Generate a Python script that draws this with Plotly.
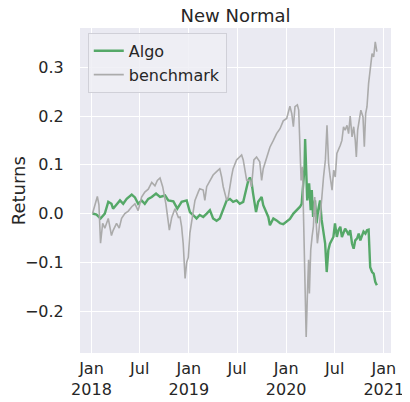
import plotly.graph_objects as go

# Algo cumulative returns
algo_dates = [
    "2018-01-05", "2018-01-20", "2018-02-04", "2018-02-20", "2018-03-05", "2018-03-17",
    "2018-03-23", "2018-04-05", "2018-04-18", "2018-04-30", "2018-05-13", "2018-06-01",
    "2018-06-13", "2018-06-25", "2018-07-08", "2018-07-20", "2018-08-02", "2018-08-15",
    "2018-08-31", "2018-09-15", "2018-10-04", "2018-10-16", "2018-11-04", "2018-11-19",
    "2018-12-05", "2018-12-24", "2019-01-05", "2019-01-17", "2019-01-30", "2019-02-11",
    "2019-02-24", "2019-03-09", "2019-03-21", "2019-04-02", "2019-04-15", "2019-04-27",
    "2019-05-10", "2019-05-23", "2019-06-04", "2019-06-16", "2019-06-29", "2019-07-11",
    "2019-07-24", "2019-07-30", "2019-08-06", "2019-08-12", "2019-08-18", "2019-08-24",
    "2019-08-30", "2019-09-10", "2019-09-18", "2019-10-01", "2019-10-07", "2019-10-17",
    "2019-10-26", "2019-11-01", "2019-11-14", "2019-11-26", "2019-12-09", "2019-12-21",
    "2020-01-03", "2020-01-15", "2020-01-28", "2020-02-09", "2020-02-22", "2020-02-28",
    "2020-03-05", "2020-03-10", "2020-03-12", "2020-03-15", "2020-03-20", "2020-03-27",
    "2020-04-02", "2020-04-06", "2020-04-11", "2020-04-18", "2020-04-24", "2020-04-30",
    "2020-05-07", "2020-05-13", "2020-05-19", "2020-05-26", "2020-06-01", "2020-06-07",
    "2020-06-13", "2020-06-20", "2020-06-26", "2020-07-02", "2020-07-09", "2020-07-15",
    "2020-07-22", "2020-07-28", "2020-08-03", "2020-08-09", "2020-08-16", "2020-08-22",
    "2020-08-28", "2020-09-04", "2020-09-10", "2020-09-16", "2020-09-23", "2020-09-29",
    "2020-10-05", "2020-10-11", "2020-10-17", "2020-10-24", "2020-10-30", "2020-11-05",
    "2020-11-08", "2020-11-11", "2020-11-18", "2020-11-24", "2020-11-30", "2020-12-06",
]
algo_returns = [
    0.000, -0.002, -0.010, 0.000, 0.024, 0.020,
    0.010, 0.018, 0.027, 0.020, 0.030, 0.039,
    0.033, 0.020, 0.027, 0.020, 0.030, 0.034,
    0.041, 0.034, 0.037, 0.027, 0.025, 0.010,
    0.024, 0.027, 0.003, -0.003, -0.010, -0.003,
    -0.007, 0.000, 0.007, -0.010, -0.015, -0.010,
    0.007, 0.027, 0.030, 0.024, 0.027, 0.020,
    0.024, 0.038, 0.058, 0.068, 0.074, 0.065,
    0.041, 0.003, 0.024, 0.034, 0.017, 0.003,
    -0.007, -0.024, -0.010, -0.014, -0.020, -0.022,
    -0.017, -0.011, 0.000, 0.007, 0.014, 0.020,
    0.062, 0.096, 0.153, 0.096, 0.027, 0.062,
    0.007, 0.048, -0.007, 0.027, -0.020, 0.007,
    0.027, -0.013, -0.034, -0.061, -0.120, -0.075,
    -0.062, -0.055, -0.048, -0.020, -0.048, -0.034,
    -0.027, -0.048, -0.041, -0.031, -0.037, -0.044,
    -0.034, -0.062, -0.072, -0.055, -0.051, -0.041,
    -0.055, -0.044, -0.037, -0.041, -0.034, -0.033,
    -0.072, -0.110, -0.120, -0.123, -0.140, -0.147,
]

# benchmark cumulative returns
bench_dates = [
    "2018-01-05", "2018-01-18", "2018-01-23", "2018-01-29", "2018-02-02", "2018-02-04",
    "2018-02-12", "2018-02-20", "2018-03-05", "2018-03-17", "2018-03-23", "2018-04-05",
    "2018-04-15", "2018-04-24", "2018-05-06", "2018-05-19", "2018-06-01", "2018-06-13",
    "2018-06-25", "2018-07-08", "2018-07-20", "2018-08-02", "2018-08-15", "2018-08-27",
    "2018-09-05", "2018-09-15", "2018-09-25", "2018-10-07", "2018-10-20", "2018-10-29",
    "2018-11-10", "2018-11-23", "2018-11-29", "2018-12-05", "2018-12-11", "2018-12-18",
    "2018-12-24", "2018-12-30", "2019-01-05", "2019-01-11", "2019-01-17", "2019-01-24",
    "2019-02-06", "2019-02-11", "2019-02-24", "2019-03-02", "2019-03-09", "2019-03-21",
    "2019-04-02", "2019-04-15", "2019-04-27", "2019-05-04", "2019-05-10", "2019-05-23",
    "2019-05-29", "2019-06-10", "2019-06-16", "2019-06-29", "2019-07-11", "2019-07-18",
    "2019-07-24", "2019-07-30", "2019-08-06", "2019-08-18", "2019-08-24", "2019-09-02",
    "2019-09-12", "2019-09-24", "2019-10-01", "2019-10-07", "2019-10-20", "2019-11-01",
    "2019-11-14", "2019-11-26", "2019-12-09", "2019-12-21", "2020-01-03", "2020-01-15",
    "2020-01-22", "2020-01-28", "2020-02-03", "2020-02-12", "2020-02-17", "2020-02-22",
    "2020-02-26", "2020-03-02", "2020-03-06", "2020-03-10", "2020-03-12", "2020-03-16",
    "2020-03-21", "2020-03-25", "2020-03-28", "2020-04-02", "2020-04-07", "2020-04-12",
    "2020-04-17", "2020-04-22", "2020-04-27", "2020-05-03", "2020-05-08", "2020-05-14",
    "2020-05-20", "2020-05-27", "2020-06-02", "2020-06-08", "2020-06-14", "2020-06-21",
    "2020-06-27", "2020-07-03", "2020-07-09", "2020-07-15", "2020-07-22", "2020-07-28",
    "2020-08-03", "2020-08-09", "2020-08-16", "2020-08-22", "2020-08-28", "2020-09-04",
    "2020-09-10", "2020-09-16", "2020-09-20", "2020-09-25", "2020-10-02", "2020-10-07",
    "2020-10-15", "2020-10-20", "2020-10-25", "2020-10-30", "2020-11-05", "2020-11-11",
    "2020-11-18", "2020-11-24", "2020-11-30", "2020-12-06",
]
bench_returns = [
    0.000, 0.024, 0.035, 0.018, -0.027, -0.061,
    -0.020, -0.030, -0.010, -0.045, -0.035, -0.020,
    -0.030, -0.010, 0.000, 0.005, 0.014, 0.020,
    0.006, 0.034, 0.044, 0.050, 0.064, 0.057,
    0.068, 0.073, 0.055, 0.020, -0.034, -0.008,
    0.010, -0.008, -0.007, -0.027, -0.062, -0.133,
    -0.100, -0.090, -0.040, -0.020, 0.000, 0.027,
    0.045, 0.051, 0.048, 0.027, 0.055, 0.068,
    0.079, 0.086, 0.092, 0.075, 0.055, 0.027,
    0.034, 0.075, 0.092, 0.110, 0.116, 0.120,
    0.110, 0.086, 0.068, 0.068, 0.055, 0.110,
    0.116, 0.106, 0.068, 0.092, 0.116, 0.136,
    0.150, 0.164, 0.174, 0.190, 0.195, 0.220,
    0.205, 0.178, 0.219, 0.223, 0.212, 0.130,
    0.068, 0.096, -0.020, -0.103, -0.171, -0.253,
    -0.157, -0.095, -0.164, -0.075, -0.048, -0.027,
    0.034, -0.020, -0.061, -0.034, -0.007, 0.035,
    0.075, 0.110, 0.181, 0.103, 0.075, 0.048,
    0.089, 0.075, 0.123, 0.130, 0.140, 0.150,
    0.178, 0.171, 0.181, 0.164, 0.200, 0.157,
    0.178, 0.150, 0.116, 0.171, 0.191, 0.212,
    0.198, 0.137, 0.205, 0.219, 0.267, 0.301,
    0.328, 0.321, 0.352, 0.332,
]

x_tick_dates = ["2018-01-01", "2018-07-01", "2019-01-01", "2019-07-01",
                "2020-01-01", "2020-07-01", "2021-01-01"]
x_tick_text = ["Jan<br>2018", "Jul", "Jan<br>2019", "Jul",
               "Jan<br>2020", "Jul", "Jan<br>2021"]
y_tick_vals = [-0.2, -0.1, 0.0, 0.1, 0.2, 0.3]
y_tick_text = ["\u22120.2", "\u22120.1", "0.0", "0.1", "0.2", "0.3"]

font_family = "DejaVu Sans"
text_color = "#262626"
clear = "rgba(0,0,0,0)"

fig = go.Figure()
fig.add_trace(go.Scatter(
    x=algo_dates, y=algo_returns, mode="lines", name="Algo",
    line=dict(color="#55A868", width=2.4),
))
fig.add_trace(go.Scatter(
    x=bench_dates, y=bench_returns, mode="lines", name="benchmark",
    line=dict(color="#ABABAB", width=1.6),
))

# page body has an 8px margin, so the figure is 8px smaller each way
fig.update_layout(
    width=402,
    height=394,
    margin=dict(l=72, r=19, t=20, b=49, autoexpand=False),
    paper_bgcolor="white",
    plot_bgcolor="#EAEAF2",
    font=dict(family=font_family, size=16, color=text_color),
    title=dict(text="New Normal", x=0.5, xref="paper", y=1, yref="container",
               yanchor="top", pad=dict(t=1), font=dict(size=18, color=text_color)),
    showlegend=True,
    legend=dict(x=0.025, y=0.985, xanchor="left", yanchor="top",
                bgcolor="rgba(238,238,245,0.85)", bordercolor="#D0D0D8", borderwidth=1,
                font=dict(size=16, color=text_color)),
    xaxis=dict(type="date", range=["2017-11-19", "2021-01-28"],
               tickvals=x_tick_dates, ticktext=x_tick_text, automargin=False,
               showgrid=True, gridcolor="white", gridwidth=1.2,
               zeroline=False, showline=False,
               ticks="outside", ticklen=1, tickcolor=clear, tickfont=dict(size=16)),
    yaxis=dict(range=[-0.286, 0.3805], tickvals=y_tick_vals, ticktext=y_tick_text,
               automargin=False,
               showgrid=True, gridcolor="white", gridwidth=1.2,
               zeroline=False, showline=False,
               ticks="outside", ticklen=12, tickcolor=clear, tickfont=dict(size=16)),
    annotations=[dict(text="Returns", textangle=-90, x=-0.197, xref="paper",
                      y=0.5, yref="paper", xanchor="center", yanchor="middle",
                      showarrow=False, font=dict(size=18, color=text_color))],
)

fig.write_html("out.html")
